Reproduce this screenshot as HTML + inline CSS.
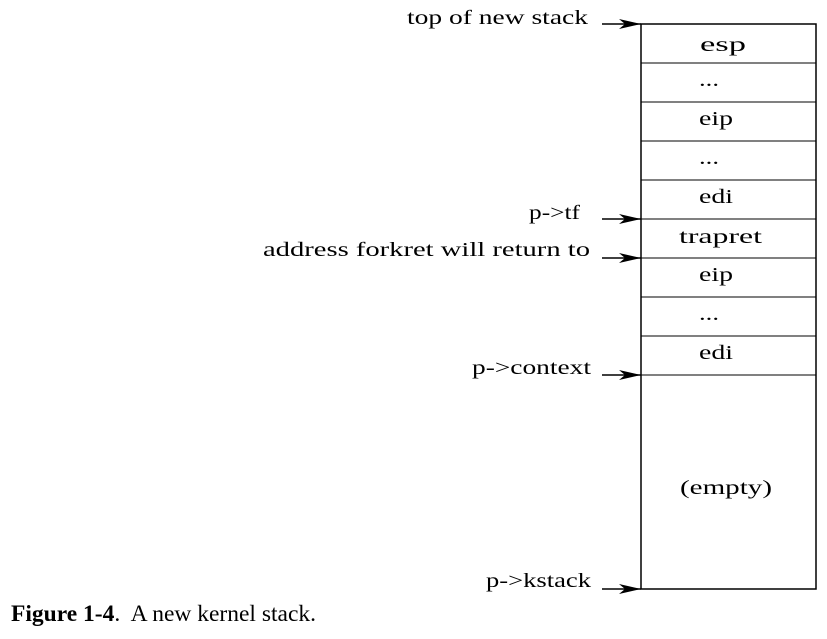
<!DOCTYPE html>
<html><head><meta charset="utf-8"><style>
body{margin:0;background:#fff;}
svg{display:block;}
text{font-family:"Liberation Serif",serif;font-size:20px;fill:#000;}
</style></head><body>
<svg width="827" height="639">
<defs><marker id="ah" markerWidth="22" markerHeight="10" refX="22" refY="5" orient="auto" markerUnits="userSpaceOnUse"><path d="M0,0 L22,5 L0,10 L6,5 Z" fill="#000"/></marker></defs>
<g>
<rect x="641" y="24" width="175" height="565" fill="none" stroke="#000" stroke-width="1.5"/>
<g stroke="#000" stroke-width="1">
<line x1="641" x2="816" y1="63" y2="63"/><line x1="641" x2="816" y1="102" y2="102"/>
<line x1="641" x2="816" y1="141" y2="141"/><line x1="641" x2="816" y1="180" y2="180"/>
<line x1="641" x2="816" y1="219" y2="219"/><line x1="641" x2="816" y1="258" y2="258"/>
<line x1="641" x2="816" y1="297" y2="297"/><line x1="641" x2="816" y1="336" y2="336"/>
<line x1="641" x2="816" y1="375" y2="375"/>
</g>
<g>
<text x="700" y="51" textLength="46" lengthAdjust="spacingAndGlyphs">esp</text>
<text x="699" y="86" textLength="20" lengthAdjust="spacingAndGlyphs">...</text>
<text x="699" y="125" textLength="34" lengthAdjust="spacingAndGlyphs">eip</text>
<text x="699" y="164" textLength="20" lengthAdjust="spacingAndGlyphs">...</text>
<text x="699" y="203" textLength="34" lengthAdjust="spacingAndGlyphs">edi</text>
<text x="679" y="243" textLength="83" lengthAdjust="spacingAndGlyphs">trapret</text>
<text x="699" y="281" textLength="34" lengthAdjust="spacingAndGlyphs">eip</text>
<text x="699" y="320" textLength="20" lengthAdjust="spacingAndGlyphs">...</text>
<text x="699" y="359" textLength="34" lengthAdjust="spacingAndGlyphs">edi</text>
<text x="680" y="494" textLength="92" lengthAdjust="spacingAndGlyphs">(empty)</text>
</g>
</g>
<g stroke="#000" stroke-width="1.5" marker-end="url(#ah)">
<line x1="602" y1="24" x2="641" y2="24"/>
<line x1="602" y1="219" x2="641" y2="219"/>
<line x1="602" y1="258" x2="641" y2="258"/>
<line x1="602" y1="375" x2="641" y2="375"/>
<line x1="602" y1="589" x2="641" y2="589"/>
</g>
<text x="407" y="24" textLength="181" lengthAdjust="spacingAndGlyphs">top of new stack</text>
<text x="529" y="219" textLength="51" lengthAdjust="spacingAndGlyphs">p-&gt;tf</text>
<text x="263" y="256" textLength="327" lengthAdjust="spacingAndGlyphs">address forkret will return to</text>
<text x="472" y="374" textLength="119" lengthAdjust="spacingAndGlyphs">p-&gt;context</text>
<text x="486" y="587" textLength="105" lengthAdjust="spacingAndGlyphs">p-&gt;kstack</text>
<text x="11" y="621" style="font-size:23.5px" xml:space="preserve"><tspan font-weight="bold">Figure 1-4</tspan>.  A new kernel stack.</text>
</svg>
</body></html>
